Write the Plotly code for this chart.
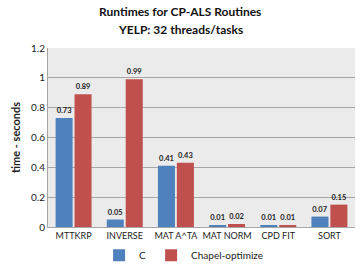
import plotly.graph_objects as go

categories = ["MTTKRP", "INVERSE", "MAT A^TA", "MAT NORM", "CPD FIT", "SORT"]
c_values = [0.73, 0.05, 0.41, 0.01, 0.01, 0.07]
chapel_values = [0.89, 0.99, 0.43, 0.02, 0.01, 0.15]
y_ticks = [0, 0.2, 0.4, 0.6, 0.8, 1, 1.2]
y_ticktext = ["0", "0.2", "0.4", "0.6", "0.8", "1", "1.2"]
title_lines = ["Runtimes for CP-ALS Routines", "YELP: 32 threads/tasks"]

font_family = "Lato, 'Open Sans', sans-serif"

fig = go.Figure()
fig.add_trace(go.Bar(
    x=categories, y=c_values, name="C",
    marker=dict(color="#4f81bd", line=dict(color="#4f81bd", width=0)),
    text=[f"<b>{v:.2f}</b>" for v in c_values], textposition="outside",
    textfont=dict(size=7.5, color="#222222", family=font_family),
    cliponaxis=False,
))
fig.add_trace(go.Bar(
    x=categories, y=chapel_values, name="Chapel-optimize",
    marker=dict(color="#c0504d", line=dict(color="#c0504d", width=0)),
    text=[f"<b>{v:.2f}</b>" for v in chapel_values], textposition="outside",
    textfont=dict(size=7.5, color="#222222", family=font_family),
    cliponaxis=False,
))

fig.update_layout(
    width=360, height=270,
    margin=dict(l=48, r=5, t=48, b=43, autoexpand=False),
    paper_bgcolor="white",
    plot_bgcolor="#ebebeb",
    font=dict(family=font_family, size=10, color="#222222"),
    barmode="group", bargap=0.26, bargroupgap=0.1,
    showlegend=True,
    legend=dict(
        orientation="h", xref="container", yref="container",
        x=0.51, xanchor="center", y=0.055, yanchor="middle",
        font=dict(size=10, color="#222222"),
        itemwidth=30, traceorder="normal",
    ),
    annotations=[
        dict(text=f"<b>{title_lines[0]}</b>", xref="paper", yref="paper",
             x=0.43, y=1.205, xanchor="center", yanchor="middle", showarrow=False,
             font=dict(size=12, color="#111111", family=font_family)),
        dict(text=f"<b>{title_lines[1]}</b>", xref="paper", yref="paper",
             x=0.43, y=1.105, xanchor="center", yanchor="middle", showarrow=False,
             font=dict(size=12, color="#111111", family=font_family)),
    ],
)
fig.update_yaxes(
    range=[0, 1.2], tickvals=y_ticks, ticktext=y_ticktext,
    showgrid=True, gridcolor="#a6a6a6", gridwidth=1,
    showline=True, linecolor="#a6a6a6", linewidth=1,
    zeroline=False, ticks="", tickfont=dict(size=10),
    title=dict(text="<b>time - seconds</b>", font=dict(size=11), standoff=8),
)
fig.update_xaxes(
    showline=True, linecolor="#a6a6a6", linewidth=1,
    ticks="", tickfont=dict(size=9),
)

fig.write_html(
    "out.html",
    config={"displayModeBar": False},
    post_script="document.body.style.margin='0';document.body.style.overflow='hidden';window.scrollTo(0,0);",
)
